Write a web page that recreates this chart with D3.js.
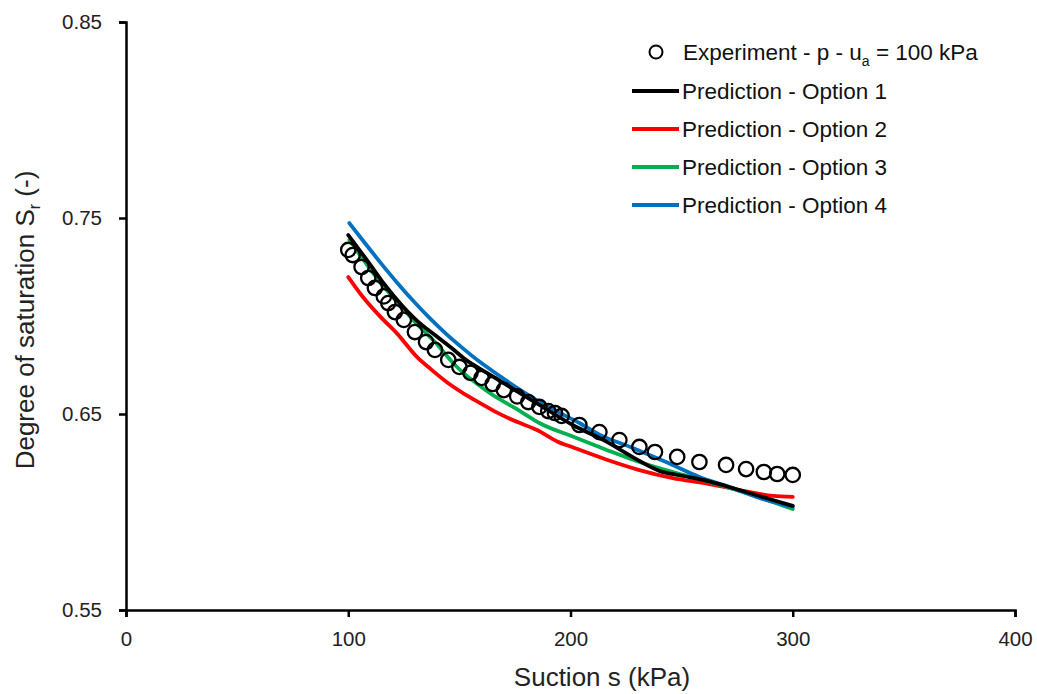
<!DOCTYPE html>
<html><head><meta charset="utf-8">
<script src="https://cdn.jsdelivr.net/npm/d3@7"></script>
<style>body{margin:0;background:#fff}svg{font-family:"Liberation Sans",Arial,sans-serif}</style>
</head><body><svg id="c" width="1037" height="694"></svg>
<script>
const xTicks = [0, 100, 200, 300, 400];
const yTicks = [0.55, 0.65, 0.75, 0.85];
const seriesNames = ["Prediction - Option 1", "Prediction - Option 2", "Prediction - Option 3", "Prediction - Option 4"];
const seriesColors = ["#000000", "#ff0000", "#00b050", "#0070c0"];

const expS  = [100,102,106,109,112,116,118,121,125,130,135,139,145,150,155,160,165,170,176,181,186,190,193,196,204,213,222,231,238,248,258,270,279,287,293,300];
const expSr = [0.7337,0.7311,0.725,0.7194,0.7143,0.710,0.7066,0.702,0.698,0.6918,0.6867,0.6827,0.6776,0.674,0.671,0.6684,0.6653,0.6622,0.659,0.6561,0.6536,0.6515,0.6505,0.649,0.6444,0.6408,0.6367,0.6332,0.6306,0.6281,0.6255,0.6240,0.6219,0.6204,0.6194,0.6189];

const opt1S  = [100,109,116.5,124,131.5,139,146.5,152.5,164,175,186,201,216,228,240,250,261,276,291,300];
const opt1Sr = [0.7413,0.7276,0.7158,0.7056,0.697,0.6903,0.6837,0.6780,0.6699,0.6622,0.6546,0.6444,0.6360,0.6280,0.6210,0.6185,0.6160,0.6112,0.6061,0.6031];

const opt2S  = [100,106.6,114.3,122,131,137,144.4,151.6,159.3,167,174,185,194,201,216,231,246,261,276,291,300];
const opt2Sr = [0.7199,0.7097,0.6998,0.6910,0.6790,0.6730,0.6662,0.6607,0.6556,0.6507,0.6469,0.6418,0.6360,0.6330,0.6268,0.6214,0.6173,0.6146,0.6112,0.6082,0.6077];

const opt3S  = [100.5,107.5,114.3,122,130,139,148,163,178,186,201,216,231,246,261,276,291,300];
const opt3Sr = [0.7388,0.7276,0.7173,0.7071,0.697,0.6867,0.6750,0.6612,0.6510,0.6454,0.6385,0.6318,0.6255,0.6204,0.6158,0.6107,0.6051,0.6015];

const opt4S  = [100.5,106.6,114.3,122,129,137,144.4,151.6,159.3,167,174,182,189.4,204,213,228,243,258,273,288,300];
const opt4Sr = [0.7474,0.7385,0.7275,0.7170,0.7080,0.6985,0.6905,0.6835,0.6765,0.6703,0.6648,0.6590,0.6540,0.6454,0.6395,0.6327,0.6255,0.6179,0.6122,0.6061,0.6026];

const svg = d3.select("#c");
const x = d3.scaleLinear().domain([0, 400]).range([126, 1015]);
const y = d3.scaleLinear().domain([0.55, 0.85]).range([610, 22]);

// axes
const xAxis = svg.append("g").attr("transform", "translate(0,610)")
  .call(d3.axisBottom(x).tickValues(xTicks).tickSize(7).tickPadding(14).tickFormat(d3.format("d")));
const yAxis = svg.append("g").attr("transform", "translate(126,0)")
  .call(d3.axisLeft(y).tickValues(yTicks).tickSize(7).tickPadding(17).tickFormat(d3.format(".2f")));
[xAxis, yAxis].forEach(a => {
  a.select(".domain").attr("stroke", "#000").attr("stroke-width", 2.5);
  a.selectAll(".tick line").attr("stroke", "#000").attr("stroke-width", 2.5);
  a.selectAll(".tick text").attr("font-size", 20.5).attr("fill", "#222").attr("font-family", "Liberation Sans, Arial, sans-serif");
});

// axis titles
svg.append("text").attr("x", 602).attr("y", 686).attr("text-anchor", "middle")
  .attr("font-size", 26).attr("fill", "#222").text("Suction s (kPa)");
const yt = svg.append("text").attr("transform", "translate(34,320) rotate(-90)").attr("text-anchor", "middle")
  .attr("font-size", 26).attr("fill", "#222");
yt.append("tspan").text("Degree of saturation S");
yt.append("tspan").attr("font-size", 16).attr("dy", 6).text("r");
yt.append("tspan").attr("dy", -6).text(" (-)");

// lines
const seriesS = [opt1S, opt2S, opt3S, opt4S];
const seriesSr = [opt1Sr, opt2Sr, opt3Sr, opt4Sr];
const line = d3.line().x(d => x(d[0])).y(d => y(d[1])).curve(d3.curveMonotoneX);
const drawOrder = [1, 2, 3, 0];
drawOrder.forEach(i => {
  const pts = seriesS[i].map((s, j) => [s, seriesSr[i][j]]);
  svg.append("path").datum(pts).attr("d", line).attr("fill", "none")
    .attr("stroke", seriesColors[i]).attr("stroke-width", 3.8).attr("stroke-linejoin", "round").attr("stroke-linecap", "round");
});

// experiment points
svg.append("g").selectAll("circle").data(expS.map((s, j) => [s, expSr[j]])).join("circle")
  .attr("cx", d => x(d[0])).attr("cy", d => y(d[1])).attr("r", 7.2)
  .attr("fill", "none").attr("stroke", "#000").attr("stroke-width", 2.3);

// legend
const lg = svg.append("g");
lg.append("circle").attr("cx", 656).attr("cy", 52).attr("r", 6.5).attr("fill", "none").attr("stroke", "#000").attr("stroke-width", 2);
const lt = lg.append("text").attr("x", 683).attr("y", 60).attr("font-size", 22.5).attr("fill", "#111");
lt.append("tspan").text("Experiment - p - u");
lt.append("tspan").attr("font-size", 14).attr("dy", 6).text("a");
lt.append("tspan").attr("dy", -6).text(" = 100 kPa");
seriesNames.forEach((n, i) => {
  const yy = 91 + i * 38;
  lg.append("line").attr("x1", 632).attr("x2", 679).attr("y1", yy).attr("y2", yy)
    .attr("stroke", seriesColors[i]).attr("stroke-width", 3.8);
  lg.append("text").attr("x", 682).attr("y", yy + 8).attr("font-size", 22.5).attr("fill", "#111").text(n);
});
</script></body></html>
